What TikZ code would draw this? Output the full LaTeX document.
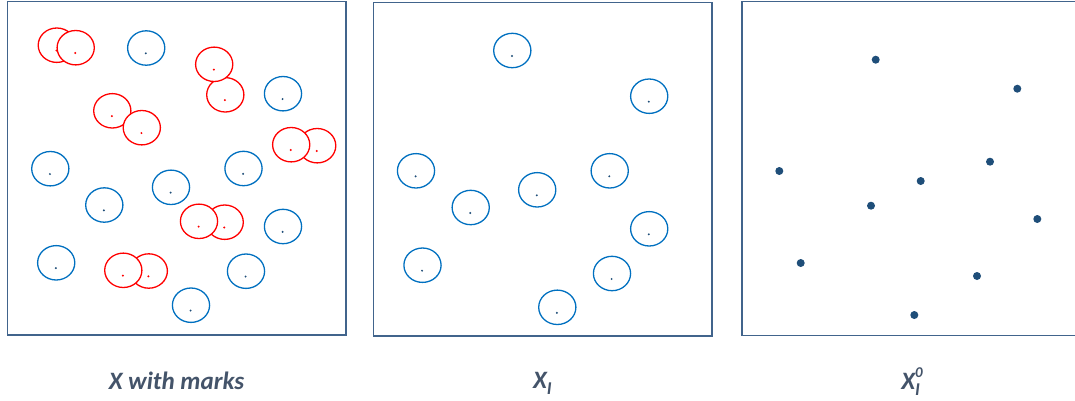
\documentclass[tikz,border=0pt]{standalone}
\usepackage{fontspec}
\setmainfont{Carlito}
\definecolor{frame}{HTML}{41648C}
\definecolor{cblue}{HTML}{0070C0}
\definecolor{cred}{HTML}{FF0000}
\definecolor{dotblue}{HTML}{1F4E79}
\definecolor{lab}{HTML}{44546A}
\begin{document}
\begin{tikzpicture}[x=1pt,y=-1pt,
  panel/.style={draw=frame,line width=1.5pt},
  bcirc/.style={draw=cblue,fill=white,line width=1.3pt},
  rcirc/.style={draw=cred,fill=white,line width=1.3pt},
  label/.style={anchor=base,text=lab,font=\fontsize{25}{28}\selectfont\bfseries\itshape,inner sep=0pt}]
\useasboundingbox (0,0) rectangle (1075,400);
\clip (0,0) rectangle (1075,400);
\def\rx{18.6}\def\ry{17.2}
% panels
\draw[panel] (7.3,1.3) rectangle (346,335);
\draw[panel] (373.5,2.3) rectangle (712,336);
\draw[panel] (742,1.7) rectangle (1085,335.5);
% panel 1: blue circles
\foreach \x/\y in {146.2/48.0, 283.0/93.7, 50.3/168.7, 243.5/168.5, 171.0/187.3, 104.3/205.0, 283.0/226.5, 56.2/262.8, 246.0/271.2, 191.0/305.2}{
  \draw[bcirc] (\x,\y) ellipse [x radius=\rx, y radius=\ry];
  \fill[dotblue] (\x-0.4,\y+5.3) circle (1.1);
}
% panel 1: red pairs (bottom circle first, top circle second)
\foreach \ax/\ay/\bx/\by in {56.8/45.2/75.7/47.7, 225.3/94.8/214.2/64.3, 112.3/110.8/141.8/127.7, 317.2/145.7/291.2/144.7, 224.7/222.2/199.0/221.3, 148.8/271.0/123.3/270.3}{
  \draw[rcirc] (\ax,\ay) ellipse [x radius=\rx, y radius=\ry];
  \fill[cred] (\ax-0.4,\ay+5.3) circle (1.1);
  \draw[rcirc] (\bx,\by) ellipse [x radius=\rx, y radius=\ry];
  \fill[cred] (\bx-0.4,\by+5.3) circle (1.1);
}
% panel 2
\foreach \x/\y in {512.3/50.5, 649.2/96.2, 416.0/170.8, 609.7/170.8, 537.2/189.8, 470.7/207.5, 649.2/228.8, 422.5/265.2, 612.0/273.5, 557.3/307.3}{
  \draw[bcirc] (\x,\y) ellipse [x radius=\rx, y radius=\ry];
  \fill[dotblue] (\x-0.4,\y+5.5) circle (1.1);
}
% panel 3
\foreach \x/\y in {875.7/59.7, 1017.3/88.7, 779.3/171.0, 990.0/161.7, 920.7/181.0, 871.0/205.7, 1037.3/219.0, 800.7/263.0, 977.0/276.0, 914.3/315.0}{
  \fill[dotblue] (\x,\y) circle (4);
}
% labels
\node[label] (l1) at (176.5,389) {X with marks};
\node[label] (l2) at (542.5,388) {X\raisebox{-6pt}{\fontsize{18}{18}\selectfont I}};
\node[label] (l3) at (912,389) {X\rlap{\raisebox{-6pt}{\fontsize{18}{18}\selectfont I}}\raisebox{12pt}{\fontsize{15}{15}\selectfont 0}};
\end{tikzpicture}
\end{document}
